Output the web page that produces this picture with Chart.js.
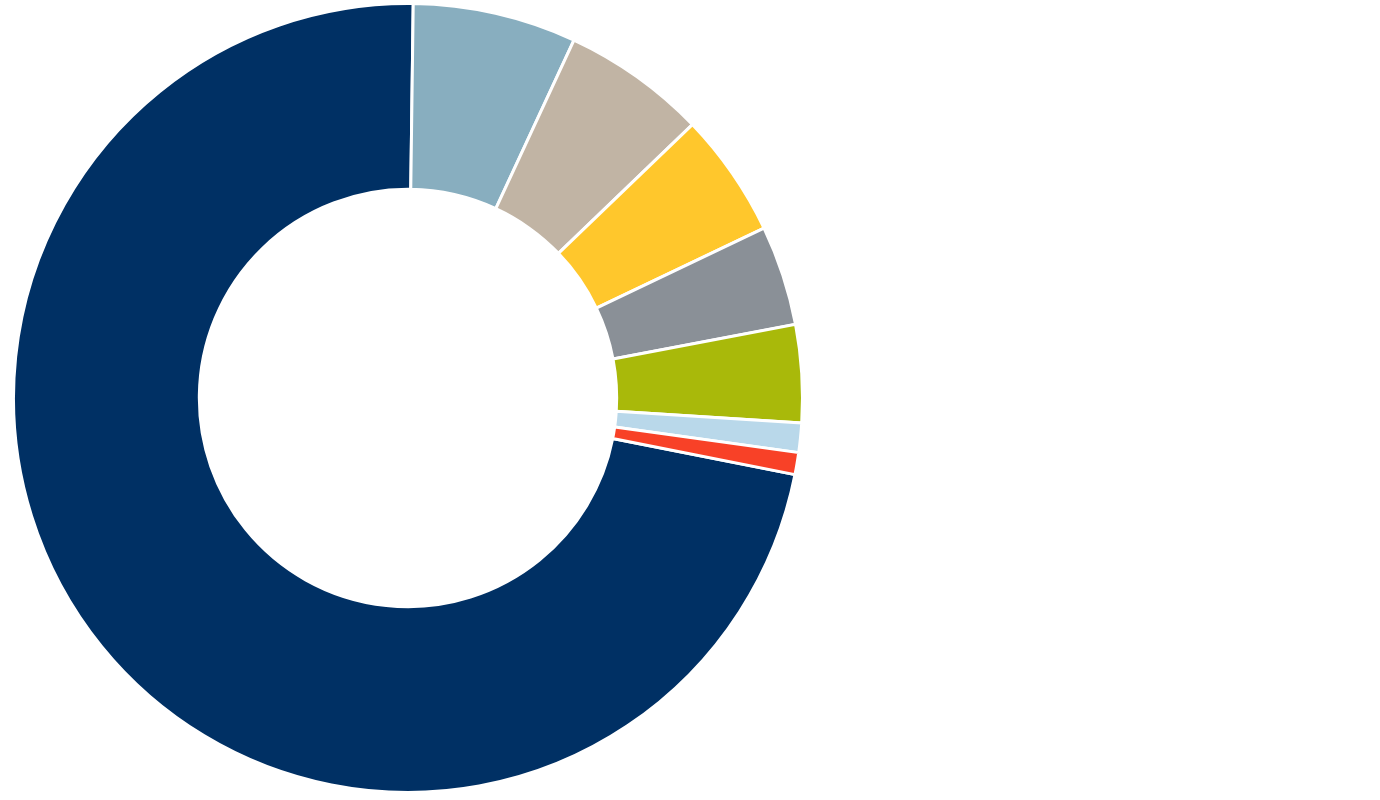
<!DOCTYPE html>
<html>
<head>
<meta charset="utf-8">
<script src="https://cdn.jsdelivr.net/npm/chart.js@4"></script>
<style>
  html, body { margin: 0; padding: 0; background: #ffffff; }
  #wrap { position: absolute; left: 0; top: 0; width: 816px; height: 796px; }
</style>
</head>
<body>
<div id="wrap"><canvas id="c"></canvas></div>
<script>
const categories = ["Segment A", "Segment B", "Segment C", "Segment D", "Segment E", "Segment F", "Segment G", "Segment H"];
const values = [72.1, 6.7, 5.9, 5.1, 4.1, 4.0, 1.2, 0.9];
const colors = ["#003064", "#88AEBF", "#C1B4A4", "#FFC72C", "#8A9097", "#A9B90A", "#B9D8EA", "#F84127"];

new Chart(document.getElementById('c'), {
  type: 'doughnut',
  data: {
    labels: categories,
    datasets: [{
      data: values,
      backgroundColor: colors,
      borderColor: '#ffffff',
      borderWidth: 3
    }]
  },
  options: {
    responsive: true,
    maintainAspectRatio: false,
    animation: false,
    rotation: 101.2,
    cutout: '52.9%',
    layout: { padding: 2 },
    plugins: {
      legend: { display: false },
      tooltip: { enabled: false }
    }
  }
});
</script>
</body>
</html>
